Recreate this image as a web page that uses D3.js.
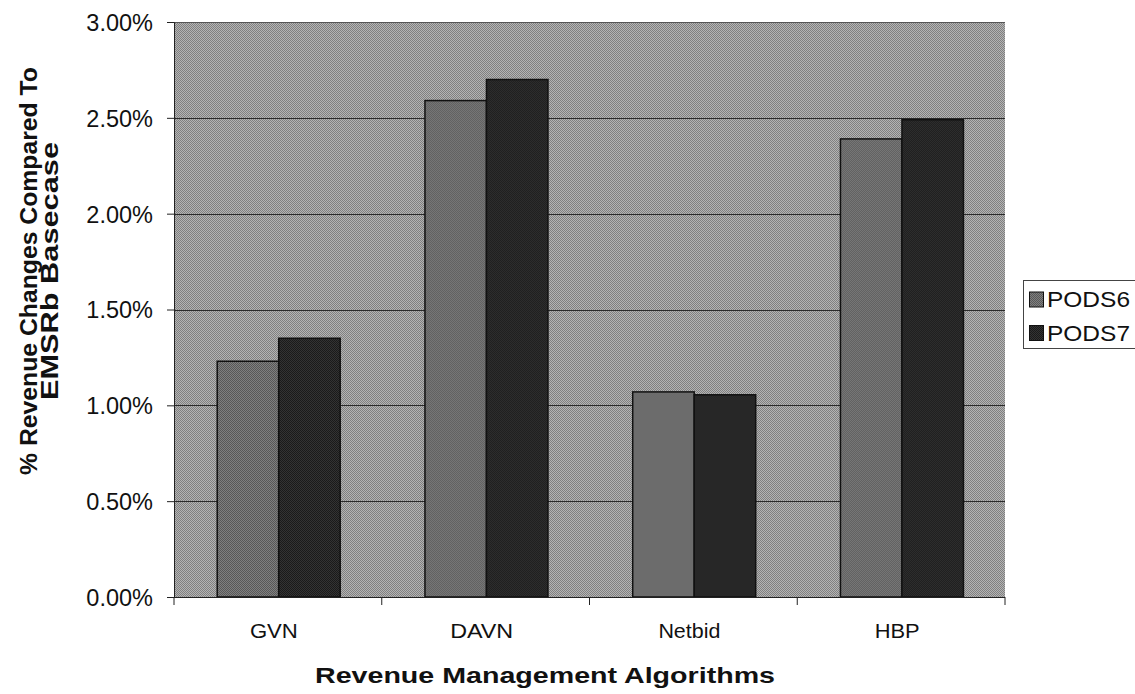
<!DOCTYPE html>
<html><head><meta charset="utf-8">
<script src="https://cdn.jsdelivr.net/npm/d3@7/dist/d3.min.js"></script>
<style>body{margin:0;background:#fff}svg{display:block}text{font-family:"Liberation Sans",Arial,sans-serif}</style>
</head><body>
<script>
const categories = ["GVN","DAVN","Netbid","HBP"];
const seriesNames = ["PODS6","PODS7"];
const pods6 = [1.23,2.59,1.07,2.39];
const pods7 = [1.35,2.70,1.055,2.49];
const yTicks = [0,0.5,1.0,1.5,2.0,2.5,3.0];

const W=1135,H=694;
const m={left:174,right:1005,top:22,bottom:597};
const svg=d3.select("body").append("svg").attr("width",W).attr("height",H);

const defs=svg.append("defs");
function dither(id,c1,c2){
  const p=defs.append("pattern").attr("id",id).attr("width",2).attr("height",2).attr("patternUnits","userSpaceOnUse");
  p.append("rect").attr("width",2).attr("height",2).attr("fill",c1);
  p.append("rect").attr("width",1).attr("height",1).attr("fill",c2);
  p.append("rect").attr("x",1).attr("y",1).attr("width",1).attr("height",1).attr("fill",c2);
}
dither("bgp","#b4b4b4","#808080");
dither("p6","#808080","#585858");
dither("p7","#333333","#1a1a1a");
const fills={PODS6:"url(#p6)",PODS7:"url(#p7)"};

const x0=d3.scaleBand().domain(categories).range([m.left,m.right]).padding(0);
const x1=d3.scaleBand().domain(seriesNames).range([x0.bandwidth()*0.208,x0.bandwidth()*0.8]).padding(0);
const y=d3.scaleLinear().domain([0,3]).range([m.bottom,m.top]);

svg.append("rect").attr("x",m.left).attr("y",m.top).attr("width",m.right-m.left).attr("height",m.bottom-m.top).attr("fill","url(#bgp)");

// gridlines
svg.append("g").selectAll("line").data(yTicks.slice(1)).join("line")
 .attr("x1",m.left).attr("x2",m.right).attr("y1",d=>Math.round(y(d))+0.5).attr("y2",d=>Math.round(y(d))+0.5)
 .attr("stroke","#2a2a2a").attr("stroke-width",1.2);

// bars
const data=categories.map((c,i)=>({c,vals:[{s:"PODS6",v:pods6[i]},{s:"PODS7",v:pods7[i]}]}));
svg.append("g").selectAll("g").data(data).join("g")
 .attr("transform",d=>`translate(${x0(d.c)},0)`)
 .selectAll("rect").data(d=>d.vals).join("rect")
 .attr("x",d=>x1(d.s)).attr("width",x1.bandwidth())
 .attr("y",d=>y(d.v)).attr("height",d=>y(0)-y(d.v))
 .attr("fill",d=>fills[d.s]).attr("stroke","#111").attr("stroke-width",1.5);

// plot border
svg.append("line").attr("x1",m.left+0.5).attr("x2",m.left+0.5).attr("y1",m.top).attr("y2",m.bottom).attr("stroke","#222");
svg.append("line").attr("x1",m.left).attr("x2",m.right).attr("y1",m.top+0.5).attr("y2",m.top+0.5).attr("stroke","#555");

// y axis
const yAxis=d3.axisLeft(y).tickValues(yTicks).tickFormat(d=>d.toFixed(2)+"%").tickSize(7).tickPadding(14);
const ya=svg.append("g").attr("transform",`translate(${m.left},0)`).call(yAxis);
ya.select(".domain").attr("stroke","#222");
ya.selectAll("line").attr("stroke","#222");
ya.selectAll("text").attr("font-size",23.5).attr("fill","#111").attr("dy","0.36em").attr("font-family","Liberation Sans, Arial, sans-serif");

// x axis
const xa=svg.append("g").attr("transform",`translate(0,${m.bottom})`);
xa.append("line").attr("x1",m.left).attr("x2",m.right).attr("y1",0.5).attr("y2",0.5).attr("stroke","#222");
const bounds=categories.map(c=>x0(c)).concat([x0(categories[categories.length-1])+x0.bandwidth()]);
xa.selectAll("line.tk").data(bounds).join("line").attr("class","tk")
 .attr("x1",d=>d).attr("x2",d=>d).attr("y1",0).attr("y2",8).attr("stroke","#222");
const catW={GVN:48,DAVN:63,Netbid:62,HBP:45};
xa.selectAll("text").data(categories).join("text")
 .attr("x",d=>x0(d)+x0.bandwidth()*0.5-4).attr("y",41).attr("text-anchor","middle")
 .attr("font-size",20.5).attr("fill","#111")
 .attr("textLength",d=>catW[d]).attr("lengthAdjust","spacingAndGlyphs").text(d=>d);

// titles
svg.append("text").attr("x",545).attr("y",683).attr("text-anchor","middle").attr("font-size",22.5).attr("font-weight","bold").attr("fill","#111")
 .attr("textLength",460).attr("lengthAdjust","spacingAndGlyphs").text("Revenue Management Algorithms");
const yt=svg.append("text").attr("transform","translate(0,271) rotate(-90)").attr("text-anchor","middle").attr("font-size",23.5).attr("font-weight","bold").attr("fill","#111");
yt.append("tspan").attr("x",0).attr("y",37).attr("textLength",408).attr("lengthAdjust","spacingAndGlyphs").text("% Revenue Changes Compared To");
yt.append("tspan").attr("x",0).attr("y",58).attr("textLength",258).attr("lengthAdjust","spacingAndGlyphs").text("EMSRb Basecase");

// legend
const lg=svg.append("g");
lg.append("rect").attr("x",1023.5).attr("y",280.5).attr("width",115).attr("height",68).attr("fill","#fff").attr("stroke","#444");
seriesNames.forEach((s,i)=>{
  const yy=292+i*33.5;
  lg.append("rect").attr("x",1029.5).attr("y",yy).attr("width",14).attr("height",15).attr("fill",fills[s]).attr("stroke","#111");
  lg.append("text").attr("x",1047).attr("y",yy+15).attr("font-size",21.5).attr("fill","#111")
   .attr("textLength",83).attr("lengthAdjust","spacingAndGlyphs").text(s);
});
</script>
</body></html>
